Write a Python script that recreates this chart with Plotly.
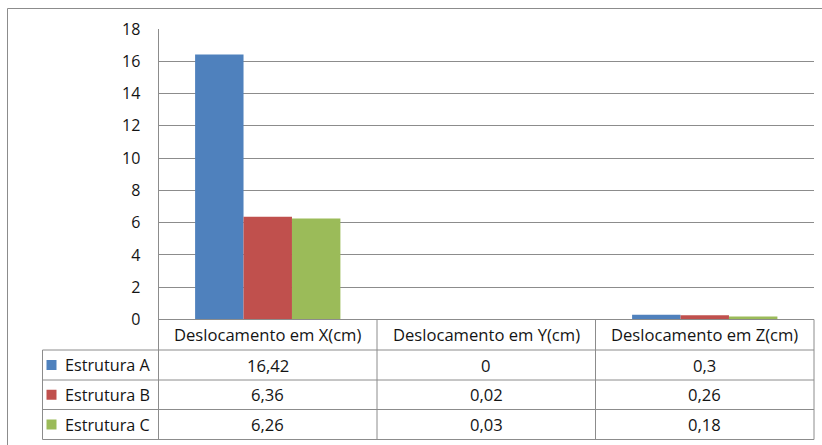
import plotly.graph_objects as go

# Figure size in pixels
W, H = 822, 445

# Data
categories = ["Deslocamento em X(cm)", "Deslocamento em Y(cm)", "Deslocamento em Z(cm)"]
series_names = ["Estrutura A", "Estrutura B", "Estrutura C"]
estrutura_a = [16.42, 0, 0.3]
estrutura_b = [6.36, 0.02, 0.26]
estrutura_c = [6.26, 0.03, 0.18]
series_values = [estrutura_a, estrutura_b, estrutura_c]
y_ticks = [0, 2, 4, 6, 8, 10, 12, 14, 16, 18]

colors = ["#4F81BD", "#C0504D", "#9BBB59"]
grid_color = "#8C8C8C"
text_color = "#141414"
FONT = "Open Sans"
FS = 16.6

# Layout geometry (pixels from top-left)
plot_left, plot_right = 158.5, 814.0
plot_top, plot_bottom = 29.0, 319.5
table_left = 42.5
col_edges = [158.5, 377.0, 595.5, 814.0]
row_edges = [319.5, 350.0, 380.0, 409.5, 439.5]


def px(x):
    return x / W


def py(y):
    return 1 - y / H


def fmt(v):
    return f"{v:g}".replace(".", ",")


fig = go.Figure()
for name, vals, col in zip(series_names, series_values, colors):
    fig.add_trace(go.Bar(x=categories, y=vals, name=name, marker=dict(color=col, line=dict(width=0))))

shapes = []
annotations = []

def hline(y, x0, x1):
    shapes.append(dict(type="line", xref="paper", yref="paper", x0=px(x0), x1=px(x1),
                       y0=py(y), y1=py(y), line=dict(color=grid_color, width=1)))

def vline(x, y0, y1):
    shapes.append(dict(type="line", xref="paper", yref="paper", x0=px(x), x1=px(x),
                       y0=py(y0), y1=py(y1), line=dict(color=grid_color, width=1)))

# Outer chart border (extends past the right and bottom edges)
hline(8.5, 7.5, W + 5)
vline(7.5, 8.5, H + 5)

# Data table grid
hline(row_edges[0], col_edges[0], col_edges[-1])
for y in row_edges[1:]:
    hline(y, table_left, col_edges[-1])
vline(table_left, row_edges[1], row_edges[-1])
for x in col_edges:
    vline(x, row_edges[0], row_edges[-1])

# Header row: category names
for i, cat in enumerate(categories):
    annotations.append(dict(xref="paper", yref="paper",
                            x=px((col_edges[i] + col_edges[i + 1]) / 2),
                            y=py((row_edges[0] + row_edges[1]) / 2),
                            text=cat, showarrow=False, xanchor="center", yanchor="middle",
                            font=dict(family=FONT, size=FS, color=text_color)))

# Series rows: legend key, name and values
for r, (name, vals, col) in enumerate(zip(series_names, series_values, colors)):
    yc = (row_edges[r + 1] + row_edges[r + 2]) / 2
    shapes.append(dict(type="rect", xref="paper", yref="paper",
                       x0=px(46.5), x1=px(56.5), y0=py(yc - 5), y1=py(yc + 5),
                       fillcolor=col, line=dict(width=0)))
    annotations.append(dict(xref="paper", yref="paper", x=px(63), y=py(yc),
                            text=name, showarrow=False, xanchor="left", yanchor="middle",
                            font=dict(family=FONT, size=FS - 0.4, color=text_color)))
    for i, v in enumerate(vals):
        annotations.append(dict(xref="paper", yref="paper",
                                x=px((col_edges[i] + col_edges[i + 1]) / 2), y=py(yc),
                                text=fmt(v), showarrow=False, xanchor="center", yanchor="middle",
                                font=dict(family=FONT, size=FS, color=text_color)))

fig.update_layout(
    width=W, height=H,
    margin=dict(l=0, r=0, t=0, b=0, pad=0, autoexpand=False),
    paper_bgcolor="white", plot_bgcolor="white",
    barmode="group", bargap=0.335, bargroupgap=0,
    showlegend=False,
    shapes=shapes, annotations=annotations,
    xaxis=dict(domain=[px(plot_left), px(plot_right)], showticklabels=False, automargin=False,
               showgrid=False, zeroline=False, showline=False, fixedrange=True),
    yaxis=dict(domain=[py(plot_bottom), py(plot_top)], range=[0, 18], automargin=False,
               tickmode="array", tickvals=y_ticks, ticktext=[str(t) for t in y_ticks],
               showgrid=True, gridcolor=grid_color, gridwidth=1,
               zeroline=False, showline=True, linecolor=grid_color, linewidth=1,
               ticks="", ticklabelstandoff=14,
               tickfont=dict(family=FONT, size=16, color=text_color), fixedrange=True),
)

fig.write_html("out.html", config={"displayModeBar": False})
